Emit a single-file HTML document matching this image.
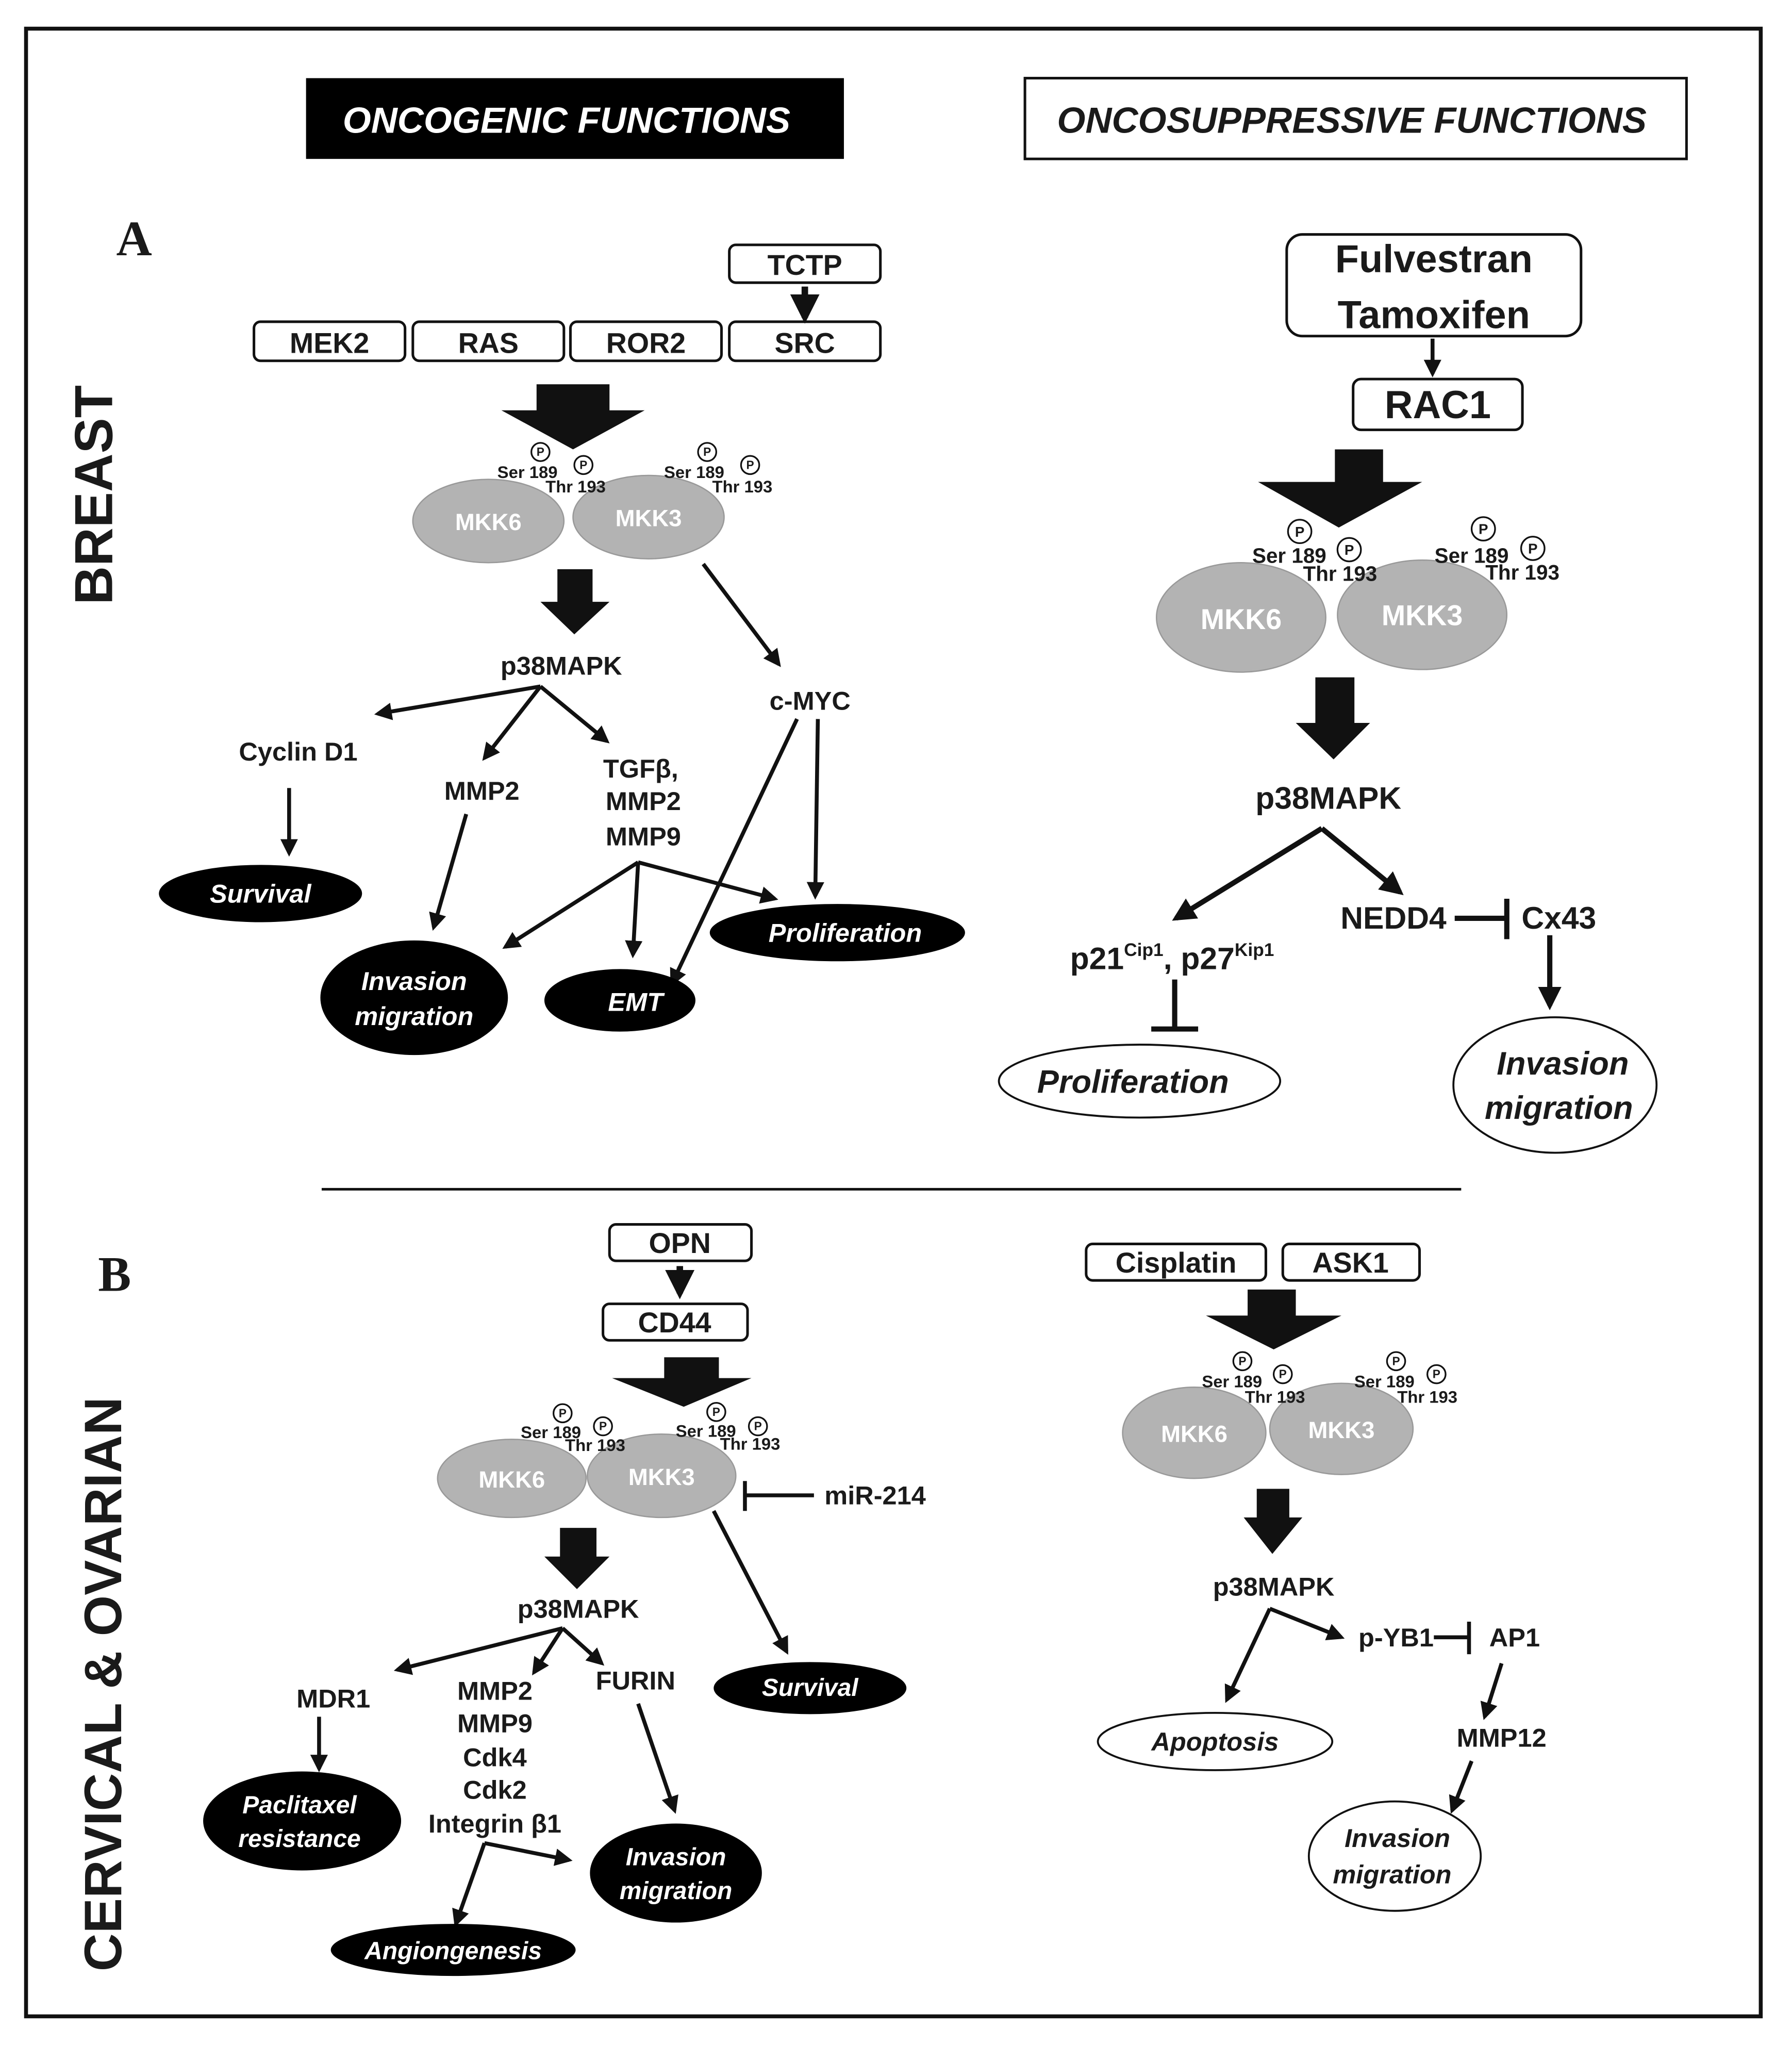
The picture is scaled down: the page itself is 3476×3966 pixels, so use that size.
<!DOCTYPE html>
<html><head><meta charset="utf-8"><style>
html,body{margin:0;padding:0;background:#fff;}
svg{display:block;}
text{font-family:"Liberation Sans",sans-serif;font-weight:bold;fill:#1a1a1a;}
.w{fill:#fff;}
.it{font-style:italic;}
</style></head><body>
<svg width="3476" height="3966" viewBox="0 0 1376 1570" preserveAspectRatio="none" xmlns="http://www.w3.org/2000/svg">
<defs>
<marker id="a" viewBox="0 0 10 10" refX="8" refY="5" markerWidth="4.5" markerHeight="4.5" orient="auto"><path d="M0,0 L10,5 L0,10 z" fill="#111"/></marker>
</defs>
<rect x="0" y="0" width="1376" height="1570" fill="#fff"/>
<rect x="20" y="22" width="1332" height="1526" fill="none" stroke="#111" stroke-width="3"/>

<rect x="235" y="60" width="413" height="62" fill="#000"/>
<text x="435" y="102" font-size="28" text-anchor="middle" class="w it">ONCOGENIC FUNCTIONS</text>
<rect x="787" y="60" width="508" height="62" fill="#fff" stroke="#111" stroke-width="2"/>
<text x="1038" y="102" font-size="28" text-anchor="middle" class="it">ONCOSUPPRESSIVE FUNCTIONS</text>

<text x="103" y="196" font-size="38" text-anchor="middle" style="font-family:'Liberation Serif',serif">A</text>
<text x="88" y="991" font-size="38" text-anchor="middle" style="font-family:'Liberation Serif',serif">B</text>
<text transform="translate(86,380) rotate(-90)" font-size="41" text-anchor="middle">BREAST</text>
<text transform="translate(93,1293) rotate(-90)" font-size="40.5" text-anchor="middle">CERVICAL &amp; OVARIAN</text>

<line x1="247" y1="913" x2="1122" y2="913" stroke="#111" stroke-width="2"/>

<g stroke="#111" stroke-width="2" fill="#fff">
<rect x="560" y="188" width="116" height="29" rx="5"/>
<rect x="195" y="247" width="116" height="30" rx="5"/>
<rect x="317" y="247" width="116" height="30" rx="5"/>
<rect x="438" y="247" width="116" height="30" rx="5"/>
<rect x="560" y="247" width="116" height="30" rx="5"/>
<rect x="988" y="180" width="226" height="78" rx="12"/>
<rect x="1039" y="291" width="130" height="39" rx="6"/>
<rect x="468" y="940" width="109" height="28" rx="5"/>
<rect x="463" y="1001" width="111" height="28" rx="5"/>
<rect x="834" y="955" width="138" height="28" rx="5"/>
<rect x="985" y="955" width="105" height="28" rx="5"/>
</g>
<g font-size="22" text-anchor="middle">
<text x="618" y="211">TCTP</text>
<text x="253" y="271">MEK2</text>
<text x="375" y="271">RAS</text>
<text x="496" y="271">ROR2</text>
<text x="618" y="271">SRC</text>
<text x="522" y="962">OPN</text>
<text x="518" y="1023">CD44</text>
<text x="903" y="977">Cisplatin</text>
<text x="1037" y="977">ASK1</text>
</g>
<g font-size="30" text-anchor="middle">
<text x="1101" y="209">Fulvestran</text>
<text x="1101" y="252">Tamoxifen</text>
<text x="1104" y="321">RAC1</text>
</g>

<g fill="#111">
<path d="M412,295 H468 V315 H495 L440,345 L385,315 H412 Z"/>
<path d="M428,437 H455 V462 H468 L441,487 L415,462 H428 Z"/>
<path d="M1025,345 H1062 V370 H1092 L1028,405 L966,370 H1025 Z"/>
<path d="M1010,520 H1040 V555 H1052 L1024,583 L995,555 H1010 Z"/>
<path d="M510,1042 H552 V1058 H577 L525,1080 L470,1058 H510 Z"/>
<path d="M430,1173 H458 V1195 H468 L443,1220 L418,1195 H430 Z"/>
<path d="M958,990 H995 V1010 H1030 L978,1036 L926,1010 H958 Z"/>
<path d="M965,1143 H990 V1165 H1000 L977,1193 L955,1165 H965 Z"/>
</g>

<g fill="#b3b3b3" stroke="#999" stroke-width="1">
<ellipse cx="375" cy="400" rx="58" ry="32"/>
<ellipse cx="498" cy="397" rx="58" ry="32"/>
<ellipse cx="953" cy="474" rx="65" ry="42"/>
<ellipse cx="1092" cy="472" rx="65" ry="42"/>
<ellipse cx="393" cy="1135" rx="57" ry="30"/>
<ellipse cx="508" cy="1133" rx="57" ry="32"/>
<ellipse cx="917" cy="1100" rx="55" ry="35"/>
<ellipse cx="1030" cy="1097" rx="55" ry="35"/>
</g>
<g class="w" text-anchor="middle">
<text x="375" y="407" font-size="18" class="w">MKK6</text>
<text x="498" y="404" font-size="18" class="w">MKK3</text>
<text x="953" y="483" font-size="22" class="w">MKK6</text>
<text x="1092" y="480" font-size="22" class="w">MKK3</text>
<text x="393" y="1142" font-size="18" class="w">MKK6</text>
<text x="508" y="1140" font-size="18" class="w">MKK3</text>
<text x="917" y="1107" font-size="18" class="w">MKK6</text>
<text x="1030" y="1104" font-size="18" class="w">MKK3</text>
</g>

<g fill="#fff" stroke="#111" stroke-width="1.3">
<circle cx="415" cy="347" r="7"/><circle cx="448" cy="357" r="7"/>
<circle cx="543" cy="347" r="7"/><circle cx="576" cy="357" r="7"/>
<circle cx="998" cy="408" r="9"/><circle cx="1036" cy="422" r="9"/>
<circle cx="1139" cy="406" r="9"/><circle cx="1177" cy="421" r="9"/>
<circle cx="432" cy="1085" r="7"/><circle cx="463" cy="1095" r="7"/>
<circle cx="550" cy="1084" r="7"/><circle cx="582" cy="1095" r="7"/>
<circle cx="954" cy="1045" r="7"/><circle cx="985" cy="1055" r="7"/>
<circle cx="1072" cy="1045" r="7"/><circle cx="1103" cy="1055" r="7"/>
</g>
<g font-size="9" text-anchor="middle">
<text x="415" y="350">P</text><text x="448" y="360">P</text><text x="543" y="350">P</text><text x="576" y="360">P</text>
<text x="998" y="412" font-size="11">P</text><text x="1036" y="426" font-size="11">P</text><text x="1139" y="410" font-size="11">P</text><text x="1177" y="425" font-size="11">P</text>
<text x="432" y="1088">P</text><text x="463" y="1098">P</text><text x="550" y="1087">P</text><text x="582" y="1098">P</text>
<text x="954" y="1048">P</text><text x="985" y="1058">P</text><text x="1072" y="1048">P</text><text x="1103" y="1058">P</text>
</g>
<g font-size="13" text-anchor="middle">
<text x="405" y="367">Ser 189</text><text x="442" y="378">Thr 193</text>
<text x="533" y="367">Ser 189</text><text x="570" y="378">Thr 193</text>
<text x="423" y="1104">Ser 189</text><text x="457" y="1114">Thr 193</text>
<text x="542" y="1103">Ser 189</text><text x="576" y="1113">Thr 193</text>
<text x="946" y="1065">Ser 189</text><text x="979" y="1077">Thr 193</text>
<text x="1063" y="1065">Ser 189</text><text x="1096" y="1077">Thr 193</text>
</g>
<g font-size="16" text-anchor="middle">
<text x="990" y="432">Ser 189</text><text x="1029" y="446">Thr 193</text>
<text x="1130" y="432">Ser 189</text><text x="1169" y="445">Thr 193</text>
</g>

<g stroke="#111" stroke-width="3" fill="none" marker-end="url(#a)">
<line x1="618" y1="220" x2="618" y2="244" stroke-width="5"/>
<line x1="540" y1="433" x2="598" y2="510"/>
<line x1="415" y1="527" x2="290" y2="548"/>
<line x1="415" y1="527" x2="372" y2="582"/>
<line x1="415" y1="527" x2="466" y2="569"/>
<line x1="222" y1="605" x2="222" y2="655"/>
<line x1="358" y1="625" x2="333" y2="712"/>
<line x1="490" y1="662" x2="388" y2="727"/>
<line x1="490" y1="662" x2="486" y2="733"/>
<line x1="490" y1="662" x2="595" y2="690"/>
<line x1="628" y1="552" x2="626" y2="688"/>
<line x1="612" y1="552" x2="516" y2="755"/>
<line x1="1100" y1="260" x2="1100" y2="287"/>
<line x1="1015" y1="636" x2="903" y2="705" stroke-width="4"/>
<line x1="1015" y1="636" x2="1075" y2="685" stroke-width="4"/>
<line x1="1190" y1="718" x2="1190" y2="772" stroke-width="4"/>
<line x1="522" y1="972" x2="522" y2="993" stroke-width="5"/>
<line x1="548" y1="1160" x2="604" y2="1268"/>
<line x1="432" y1="1250" x2="305" y2="1282"/>
<line x1="432" y1="1250" x2="410" y2="1284"/>
<line x1="432" y1="1250" x2="462" y2="1277"/>
<line x1="245" y1="1318" x2="245" y2="1358"/>
<line x1="490" y1="1308" x2="518" y2="1390"/>
<line x1="372" y1="1415" x2="350" y2="1477"/>
<line x1="372" y1="1415" x2="437" y2="1428"/>
<line x1="975" y1="1235" x2="942" y2="1305"/>
<line x1="975" y1="1235" x2="1030" y2="1257"/>
<line x1="1153" y1="1277" x2="1140" y2="1318"/>
<line x1="1130" y1="1352" x2="1115" y2="1390"/>
</g>
<g stroke="#111" stroke-width="4" fill="none">
<line x1="1117" y1="705" x2="1157" y2="705"/><line x1="1157" y1="690" x2="1157" y2="721"/>
<line x1="902" y1="752" x2="902" y2="790"/><line x1="884" y1="790" x2="920" y2="790"/>
<line x1="625" y1="1148" x2="572" y2="1148" stroke-width="3"/><line x1="572" y1="1137" x2="572" y2="1160" stroke-width="3"/>
<line x1="1101" y1="1257" x2="1128" y2="1257" stroke-width="3"/><line x1="1128" y1="1245" x2="1128" y2="1270" stroke-width="3"/>
</g>

<g font-size="20" text-anchor="middle">
<text x="431" y="518">p38MAPK</text>
<text x="622" y="545">c-MYC</text>
<text x="229" y="584">Cyclin D1</text>
<text x="370" y="614">MMP2</text>
<text x="492" y="597">TGFβ,</text>
<text x="494" y="622">MMP2</text>
<text x="494" y="649">MMP9</text>
<text x="444" y="1242">p38MAPK</text>
<text x="672" y="1155">miR-214</text>
<text x="256" y="1311">MDR1</text>
<text x="380" y="1305">MMP2</text>
<text x="380" y="1330">MMP9</text>
<text x="380" y="1356">Cdk4</text>
<text x="380" y="1381">Cdk2</text>
<text x="380" y="1407">Integrin β1</text>
<text x="488" y="1297">FURIN</text>
<text x="978" y="1225">p38MAPK</text>
<text x="1072" y="1264">p-YB1</text>
<text x="1163" y="1264">AP1</text>
<text x="1153" y="1341">MMP12</text>
</g>
<g font-size="24" text-anchor="middle">
<text x="1020" y="621">p38MAPK</text>
<text x="1070" y="713">NEDD4</text>
<text x="1197" y="713">Cx43</text>
<text x="900" y="744">p21<tspan font-size="14" dy="-10">Cip1</tspan><tspan dy="10">, p27</tspan><tspan font-size="14" dy="-10">Kip1</tspan></text>
</g>

<g fill="#000">
<ellipse cx="200" cy="686" rx="78" ry="22"/>
<ellipse cx="318" cy="766" rx="72" ry="44"/>
<ellipse cx="476" cy="768" rx="58" ry="24"/>
<ellipse cx="643" cy="716" rx="98" ry="22"/>
<ellipse cx="622" cy="1296" rx="74" ry="20"/>
<ellipse cx="232" cy="1398" rx="76" ry="38"/>
<ellipse cx="519" cy="1438" rx="66" ry="38"/>
<ellipse cx="348" cy="1497" rx="94" ry="20"/>
</g>
<g font-size="20" text-anchor="middle" class="it">
<text x="200" y="693" class="w it">Survival</text>
<text x="318" y="760" class="w it">Invasion</text>
<text x="318" y="787" class="w it">migration</text>
<text x="488" y="776" class="w it">EMT</text>
<text x="649" y="723" class="w it">Proliferation</text>
<text x="622" y="1302" class="w it" font-size="19">Survival</text>
<text x="230" y="1392" class="w it" font-size="19">Paclitaxel</text>
<text x="230" y="1418" class="w it" font-size="19">resistance</text>
<text x="519" y="1432" class="w it" font-size="19">Invasion</text>
<text x="519" y="1458" class="w it" font-size="19">migration</text>
<text x="348" y="1504" class="w it" font-size="19">Angiongenesis</text>
</g>
<g fill="#fff" stroke="#111" stroke-width="1.5">
<ellipse cx="875" cy="830" rx="108" ry="28"/>
<ellipse cx="1194" cy="833" rx="78" ry="52"/>
<ellipse cx="933" cy="1337" rx="90" ry="22"/>
<ellipse cx="1071" cy="1425" rx="66" ry="42"/>
</g>
<g text-anchor="middle" class="it">
<text x="870" y="839" font-size="25" class="it">Proliferation</text>
<text x="1200" y="825" font-size="25" class="it">Invasion</text>
<text x="1197" y="859" font-size="25" class="it">migration</text>
<text x="933" y="1344" font-size="20" class="it">Apoptosis</text>
<text x="1073" y="1418" font-size="20" class="it">Invasion</text>
<text x="1069" y="1446" font-size="20" class="it">migration</text>
</g>
</svg>
</body></html>
